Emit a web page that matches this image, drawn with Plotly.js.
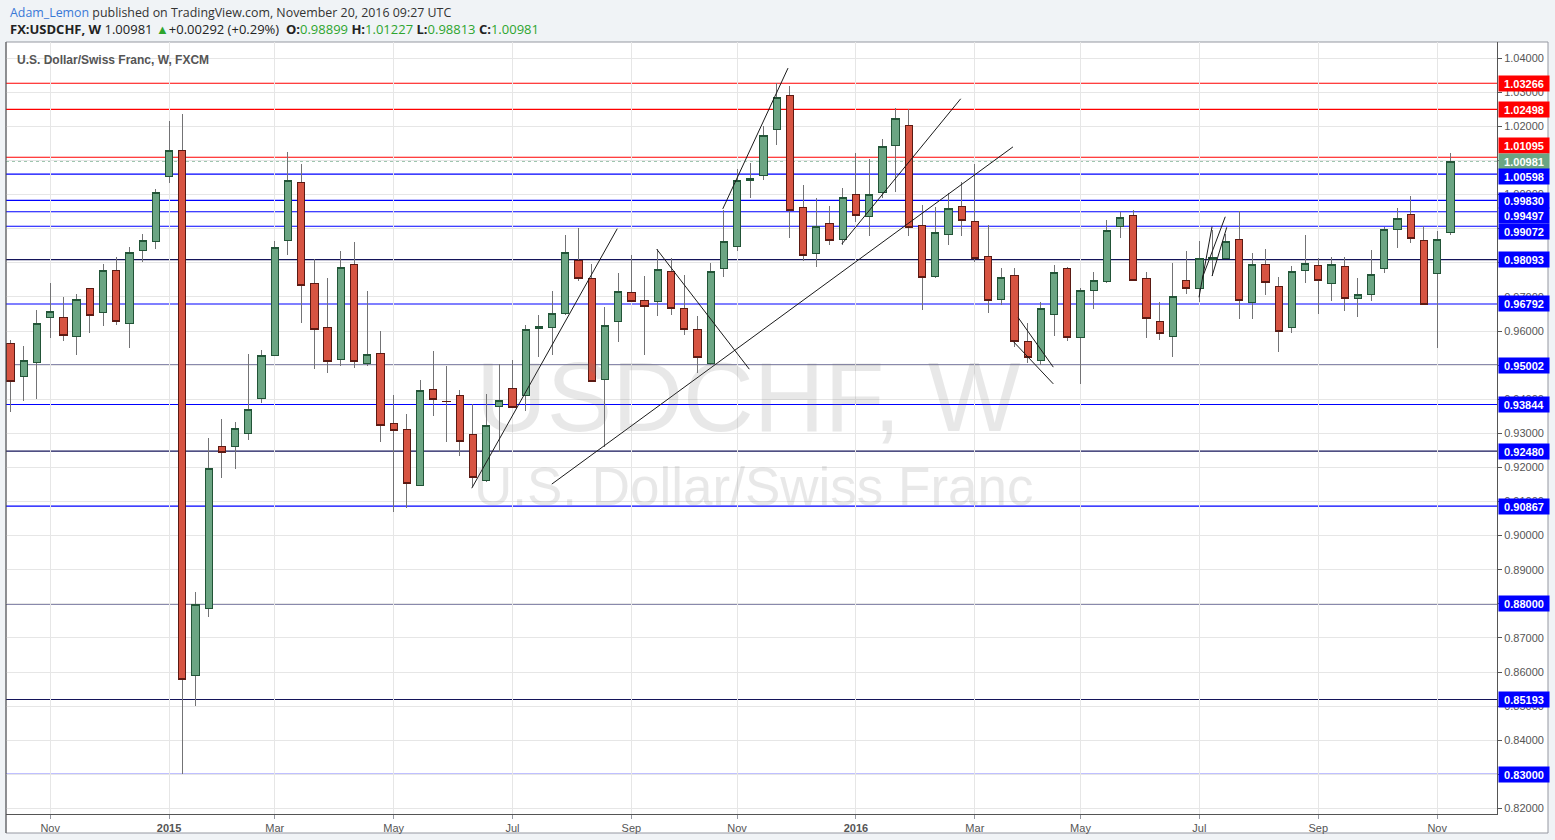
<!DOCTYPE html>
<html><head><meta charset="utf-8">
<script src="https://cdn.plot.ly/plotly-3.0.1.min.js"></script>
<style>html,body{margin:0;padding:0;background:#f0f3f6;}#chart{width:1555px;height:840px;}
#chart .boxlayer path{shape-rendering:crispEdges;}
</style>
</head><body><div id="chart"></div>
<script>
// ---------- DATA ----------
const weeks = [
'2014-10-13','2014-10-20','2014-10-27','2014-11-03','2014-11-10','2014-11-17','2014-11-24','2014-12-01','2014-12-08','2014-12-15','2014-12-22','2014-12-29',
'2015-01-05','2015-01-12','2015-01-19','2015-01-26','2015-02-02','2015-02-09','2015-02-16','2015-02-23','2015-03-02','2015-03-09','2015-03-16','2015-03-23','2015-03-30',
'2015-04-06','2015-04-13','2015-04-20','2015-04-27','2015-05-04','2015-05-11','2015-05-18','2015-05-25','2015-06-01','2015-06-08','2015-06-15','2015-06-22','2015-06-29',
'2015-07-06','2015-07-13','2015-07-20','2015-07-27','2015-08-03','2015-08-10','2015-08-17','2015-08-24','2015-08-31','2015-09-07','2015-09-14','2015-09-21','2015-09-28',
'2015-10-05','2015-10-12','2015-10-19','2015-10-26','2015-11-02','2015-11-09','2015-11-16','2015-11-23','2015-11-30','2015-12-07','2015-12-14','2015-12-21','2015-12-28',
'2016-01-04','2016-01-11','2016-01-18','2016-01-25','2016-02-01','2016-02-08','2016-02-15','2016-02-22','2016-02-29','2016-03-07','2016-03-14','2016-03-21','2016-03-28',
'2016-04-04','2016-04-11','2016-04-18','2016-04-25','2016-05-02','2016-05-09','2016-05-16','2016-05-23','2016-05-30','2016-06-06','2016-06-13','2016-06-20','2016-06-27',
'2016-07-04','2016-07-11','2016-07-18','2016-07-25','2016-08-01','2016-08-08','2016-08-15','2016-08-22','2016-08-29','2016-09-05','2016-09-12','2016-09-19','2016-09-26',
'2016-10-03','2016-10-10','2016-10-17','2016-10-24','2016-10-31','2016-11-07','2016-11-14'];

const open = [
0.9564,0.9467,0.9508,0.9640,0.9640,0.9585,0.9725,0.9655,0.9778,0.9623,0.9837,0.9863,
1.0054,1.0130,0.8590,0.8787,0.9261,0.9262,0.9300,0.9403,0.9529,0.9866,1.0036,0.9740,0.9611,
0.9517,0.9796,0.9505,0.9535,0.9329,0.9312,0.9148,0.9429,0.9393,0.9411,0.9297,0.9162,0.9379,
0.9432,0.9411,0.9608,0.9611,0.9652,0.9808,0.9755,0.9458,0.9628,0.9714,0.9690,0.9687,0.9775,
0.9665,0.9605,0.9505,0.9784,0.9848,1.0042,1.0057,1.0192,1.0291,0.9963,0.9828,0.9916,0.9869,
1.0001,0.9936,1.0007,1.0145,1.0203,0.9910,0.9760,0.9884,0.9966,0.9922,0.9819,0.9693,0.9763,
0.9570,0.9514,0.9649,0.9784,0.9582,0.9719,0.9746,0.9907,0.9939,0.9755,0.9628,0.9585,0.9749,
0.9725,0.9811,0.9813,0.9869,0.9684,0.9796,0.9731,0.9611,0.9778,0.9793,0.9740,0.9790,0.9696,
0.9708,0.9784,0.9898,0.9942,0.9866,0.9769,0.98899];

const high = [
0.9574,0.9556,0.9662,0.9741,0.9700,0.9709,0.9726,0.9797,0.9817,0.9846,0.9885,1.0016,
1.0216,1.0236,0.8836,0.9285,0.9341,0.9333,0.9533,0.9544,0.9864,1.0125,1.0090,0.9811,0.9755,
0.9835,0.9861,0.9717,0.9600,0.9412,0.9356,0.9456,0.9541,0.9498,0.9427,0.9385,0.9415,0.9502,
0.9515,0.9618,0.9647,0.9718,0.9882,0.9901,0.9797,0.9671,0.9771,0.9823,0.9761,0.9840,0.9813,
0.9763,0.9644,0.9800,0.9955,1.0074,1.0092,1.0200,1.0326,1.0319,1.0027,0.9989,0.9967,1.0019,
1.0121,1.0104,1.0163,1.0253,1.0250,0.9969,0.9963,1.0004,1.0036,1.0089,0.9910,0.9784,0.9785,
0.9623,0.9684,0.9793,0.9787,0.9725,0.9772,0.9925,0.9948,0.9954,0.9772,0.9684,0.9800,0.9834,
0.9863,0.9895,0.9885,0.9951,0.9828,0.9841,0.9758,0.9790,0.9882,0.9813,0.9816,0.9816,0.9755,
0.9838,0.9905,0.9960,0.9995,0.9907,0.9892,1.01227];

const low = [
0.9362,0.9395,0.9400,0.9580,0.9572,0.9530,0.9595,0.9616,0.9619,0.9551,0.9802,0.9841,
1.0033,0.8300,0.8500,0.8762,0.9170,0.9194,0.9281,0.9388,0.9527,0.9824,0.9624,0.9489,0.9478,
0.9498,0.9492,0.9498,0.9275,0.9070,0.9080,0.9146,0.9350,0.9275,0.9233,0.9143,0.9156,0.9244,
0.9374,0.9366,0.9525,0.9531,0.9648,0.9748,0.9450,0.9261,0.9569,0.9686,0.9529,0.9643,0.9646,
0.9587,0.9476,0.9500,0.9758,0.9836,0.9989,1.0042,1.0145,0.9874,0.9804,0.9787,0.9851,0.9851,
0.9921,0.9880,0.9989,1.0009,0.9878,0.9661,0.9756,0.9851,0.9878,0.9802,0.9652,0.9675,0.9552,
0.9505,0.9499,0.9585,0.9570,0.9444,0.9664,0.9740,0.9872,0.9747,0.9579,0.9573,0.9523,0.9708,
0.9684,0.9760,0.9810,0.9634,0.9634,0.9706,0.9538,0.9593,0.9740,0.9649,0.9689,0.9660,0.9640,
0.9689,0.9769,0.9843,0.9857,0.9676,0.9549,0.98813];

const close = [
0.9453,0.9514,0.9623,0.9658,0.9587,0.9693,0.9646,0.9778,0.9628,0.9831,0.9866,1.0007,
1.0130,0.8579,0.8799,0.9197,0.9244,0.9315,0.9370,0.9529,0.9846,1.0042,0.9732,0.9605,0.9511,
0.9787,0.9511,0.9532,0.9324,0.9309,0.9153,0.9426,0.9400,0.9392,0.9277,0.9171,0.9324,0.9397,
0.9376,0.9605,0.9613,0.9650,0.9829,0.9755,0.9453,0.9615,0.9716,0.9687,0.9672,0.9781,0.9665,
0.9605,0.9523,0.9775,0.9863,1.0042,1.0048,1.0174,1.0285,0.9952,0.9822,0.9907,0.9866,0.9992,
0.9939,1.0001,1.0142,1.0224,0.9904,0.9758,0.9889,0.9960,0.9925,0.9813,0.9690,0.9758,0.9570,
0.9523,0.9667,0.9772,0.9582,0.9719,0.9749,0.9895,0.9933,0.9749,0.9637,0.9593,0.9702,0.9725,
0.9813,0.9815,0.9863,0.9690,0.9796,0.9743,0.9599,0.9775,0.9799,0.9749,0.9796,0.9696,0.9708,
0.9766,0.9898,0.9931,0.9872,0.9678,0.9869,1.00981];

// horizontal levels drawn on the chart
const levels     = [1.03266,1.02498,1.01095,1.00598,0.99830,0.99497,0.99072,0.98093,0.96792,0.95002,0.93844,0.92480,0.90867,0.88000,0.85193,0.83000];
const levelKinds = ['red','red','red','blue','blue','blue','blue','dark','blue','dark','blue','dark','blue','dark','dark','blue'];
const lastPrice = 1.00981;

// hand-drawn trend lines (segments separated by null)
const trendX = [
'2015-06-14 10:00','2015-08-30 12:00',null,
'2015-07-26 19:00','2016-03-27 05:00',null,
'2015-09-20 10:00','2015-11-08 12:00',null,
'2015-10-25 10:00','2015-11-29 00:00',null,
'2015-12-27 12:00','2016-02-28 12:00',null,
'2016-03-30 00:00','2016-04-17 14:00',null,
'2016-03-27 10:00','2016-04-17 14:00',null,
'2016-07-03 19:00','2016-07-10 17:00',null,
'2016-07-05 12:00','2016-07-17 17:00',null,
'2016-07-10 17:00','2016-07-18 12:00'];
const trendY = [
0.9139,0.9900,null,
0.9151,1.0140,null,
0.9840,0.9488,null,
0.9958,1.0371,null,
0.9855,1.0281,null,
0.9639,0.9494,null,
0.9569,0.9445,null,
0.9699,0.9906,null,
0.9755,0.9935,null,
0.9761,0.9904];

const monthTicks = ['2014-11-03','2015-01-05','2015-03-02','2015-05-04','2015-07-06','2015-09-07','2015-11-02','2016-01-04','2016-03-07','2016-05-02','2016-07-04','2016-09-05','2016-11-07'];
const monthLabels = ['Nov','<b>2015</b>','Mar','May','Jul','Sep','Nov','<b>2016</b>','Mar','May','Jul','Sep','Nov'];

// ---------- STYLE / LAYOUT ----------
const W = 1555, H = 840;
const plotL = 6, plotR = 1497, plotT = 42, plotB = 814;
const yRange = [0.81836, 1.04475];
const xRange = ['2014-10-10 14:00', '2016-12-08 17:00'];
const GREEN = '#6ba583', GREEN_B = '#225437', RED = '#d75442', RED_B = '#5b1a13', WICK = '#737375';
const levelColor = {red: '#ff0000', blue: '#0000ff', dark: '#14145a'};
const labelColor = {red: '#ff0000', blue: '#0000ff', dark: '#0000ff'};

const bodyHigh = open.map((o, i) => Math.max(o, close[i]));
const bodyLow = open.map((o, i) => Math.min(o, close[i]));

const traces = [
  {type: 'candlestick', x: weeks, open: open, high: high, low: low, close: close,
   increasing: {line: {color: WICK, width: 1}, fillcolor: 'rgba(0,0,0,0)'},
   decreasing: {line: {color: WICK, width: 1}, fillcolor: 'rgba(0,0,0,0)'},
   hoverinfo: 'skip', showlegend: false},
  {type: 'candlestick', x: weeks, open: open, high: bodyHigh, low: bodyLow, close: close,
   increasing: {line: {color: GREEN_B, width: 1}, fillcolor: GREEN},
   decreasing: {line: {color: RED_B, width: 1}, fillcolor: RED},
   hoverinfo: 'skip', showlegend: false},
  {type: 'scatter', mode: 'lines', x: trendX, y: trendY, connectgaps: false,
   line: {color: '#1a1a1a', width: 1}, hoverinfo: 'skip', showlegend: false}
];

const px = v => (v - plotL) / (plotR - plotL);
const py = v => (plotB - v) / (plotB - plotT);
const priceToPix = p => plotT + (yRange[1] - p) / (yRange[1] - yRange[0]) * (plotB - plotT);

const shapes = [
  {type: 'rect', xref: 'paper', yref: 'paper', x0: 0, x1: px(1548), y0: py(833), y1: 1,
   fillcolor: '#ffffff', line: {color: '#9598a1', width: 1}, layer: 'below'}
];
levels.forEach((lv, i) => {
  shapes.push({type: 'line', xref: 'paper', yref: 'y', x0: 0, x1: 1, y0: lv, y1: lv,
    line: {color: levelColor[levelKinds[i]], width: 1.2}, layer: 'between'});
});
shapes.push({type: 'line', xref: 'paper', yref: 'y', x0: 0, x1: 1, y0: lastPrice, y1: lastPrice,
  line: {color: GREEN, width: 1, dash: 'dot'}, layer: 'between'});

// price labels on right axis, stacked to avoid overlap
let labs = levels.map((lv, i) => ({p: lv, c: labelColor[levelKinds[i]], last: false}));
labs.push({p: lastPrice, c: GREEN, last: true});
labs.sort((a, b) => b.p - a.p);
labs.forEach(l => { l.y0 = priceToPix(l.p); l.y = l.y0; });
const li = labs.findIndex(l => l.last);
const GAP = 15.5;
for (let i = li - 1; i >= 0; i--) if (labs[i].y > labs[i + 1].y - GAP) labs[i].y = labs[i + 1].y - GAP;
for (let i = li + 1; i < labs.length; i++) if (labs[i].y < labs[i - 1].y + GAP) labs[i].y = labs[i - 1].y + GAP;

const annotations = labs.map(l => ({
  xref: 'paper', yref: 'y', x: 1, y: l.p, xanchor: 'left', yanchor: 'middle',
  xshift: 1, yshift: -(l.y - l.y0), text: '<b>' + l.p.toFixed(5) + '</b>', showarrow: false,
  bgcolor: l.c, width: 48, height: 13, align: 'center',
  font: {family: 'Liberation Sans, Arial, sans-serif', size: 11, color: '#ffffff'}
}));

const last = close.length - 1;
const G = '#2ea52e';
annotations.push(
  {xref: 'paper', yref: 'paper', x: px(8), y: py(12), xanchor: 'left', yanchor: 'middle', showarrow: false,
   text: '<span style="color:#3a78d6">Adam_Lemon</span> published on TradingView.com, November 20, 2016 09:27 UTC',
   font: {family: 'Open Sans, sans-serif', size: 12.4, color: '#333333'}},
  {xref: 'paper', yref: 'paper', x: px(8), y: py(29), xanchor: 'left', yanchor: 'middle', showarrow: false,
   text: '<b>FX:USDCHF, W</b> ' + close[last].toFixed(5) + ' <span style="color:' + G + '">▲</span>+0.00292 (+0.29%)  ' +
         '<b>O:</b><span style="color:' + G + '">' + open[last].toFixed(5) + '</span> ' +
         '<b>H:</b><span style="color:' + G + '">' + high[last].toFixed(5) + '</span> ' +
         '<b>L:</b><span style="color:' + G + '">' + low[last].toFixed(5) + '</span> ' +
         '<b>C:</b><span style="color:' + G + '">' + close[last].toFixed(5) + '</span>',
   font: {family: 'Open Sans, sans-serif', size: 13, color: '#222222'}},
  {xref: 'paper', yref: 'paper', x: px(15), y: py(60), xanchor: 'left', yanchor: 'middle', showarrow: false,
   text: '<b>U.S. Dollar/Swiss Franc, W, FXCM</b>',
   font: {family: 'Liberation Sans, Arial, sans-serif', size: 12, color: '#555555'}},
  {xref: 'paper', yref: 'paper', x: px(748), y: py(397), xanchor: 'center', yanchor: 'middle', showarrow: false,
   text: 'USDCHF, W', font: {family: 'Liberation Sans, Arial, sans-serif', size: 98, color: 'rgba(120,120,120,0.17)'}},
  {xref: 'paper', yref: 'paper', x: px(754), y: py(486), xanchor: 'center', yanchor: 'middle', showarrow: false,
   text: 'U.S. Dollar/Swiss Franc', font: {family: 'Liberation Sans, Arial, sans-serif', size: 53, color: 'rgba(120,120,120,0.17)'}}
);

const layout = {
  width: W, height: H,
  margin: {l: plotL, r: W - plotR, t: plotT, b: H - plotB, pad: 0},
  paper_bgcolor: '#f0f3f6', plot_bgcolor: '#ffffff',
  showlegend: false, hovermode: false, dragmode: false,
  boxgap: 0.45, boxgroupgap: 0,
  xaxis: {type: 'date', range: xRange, rangeslider: {visible: false},
    tickmode: 'array', tickvals: monthTicks, ticktext: monthLabels,
    showgrid: true, gridcolor: '#e6e6e6', gridwidth: 1,
    ticks: 'outside', ticklen: 4, tickcolor: '#9598a1',
    showline: true, linecolor: '#555555', linewidth: 1, zeroline: false,
    tickfont: {family: 'Liberation Sans, Arial, sans-serif', size: 11, color: '#555555'}, fixedrange: true},
  yaxis: {side: 'right', range: yRange, dtick: 0.01, tick0: 0.82, tickformat: '.5f',
    showgrid: true, gridcolor: '#e6e6e6', gridwidth: 1, zeroline: false,
    ticks: 'outside', ticklen: 4, tickcolor: '#555555',
    showline: true, linecolor: '#555555', linewidth: 1, mirror: false,
    tickfont: {family: 'Liberation Sans, Arial, sans-serif', size: 11, color: '#555555'}, fixedrange: true},
  shapes: shapes,
  annotations: annotations
};
layout.shapes.push({type: 'line', xref: 'paper', yref: 'paper', x0: 0, x1: 0, y0: py(833), y1: 1, line: {color: '#555555', width: 1}});

Plotly.newPlot('chart', traces, layout, {displayModeBar: false, staticPlot: true});
</script></body></html>
